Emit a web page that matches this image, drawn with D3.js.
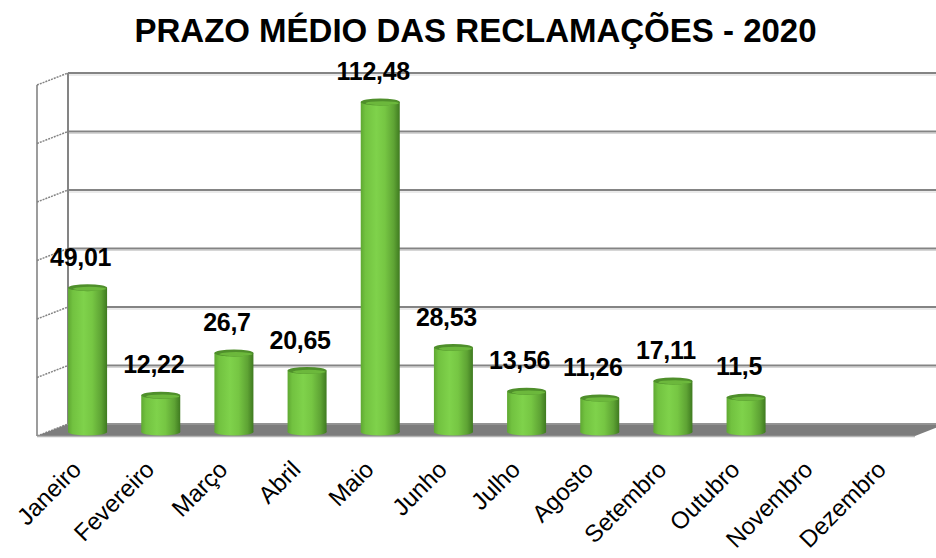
<!DOCTYPE html>
<html>
<head>
<meta charset="utf-8">
<script src="https://cdn.jsdelivr.net/npm/d3@7"></script>
<style>
  html, body { margin: 0; padding: 0; background: #ffffff; }
  svg { display: block; }
</style>
</head>
<body>
<div id="chart"></div>
<script>
// ---- data ----
const categories = ["Janeiro", "Fevereiro", "Março", "Abril", "Maio", "Junho",
                    "Julho", "Agosto", "Setembro", "Outubro", "Novembro", "Dezembro"];
const values = [49.01, 12.22, 26.7, 20.65, 112.48, 28.53, 13.56, 11.26, 17.11, 11.5, null, null];
const yTicks = [0, 20, 40, 60, 80, 100, 120];
const title = "PRAZO MÉDIO DAS RECLAMAÇÕES - 2020";

// ---- layout ----
const W = 936, H = 558;
const wallL = 68, wallR = 946;
const depthDx = -31, depthDy = 12;      // back wall -> front edge
const barDx = -17, barDy = 7;           // back wall -> bar plane

const svg = d3.select("#chart").append("svg")
  .attr("width", W).attr("height", H)
  .style("font-family", "'Liberation Sans', Arial, sans-serif");

const y = d3.scaleLinear().domain([0, 120]).range([424, 73]);
const x = d3.scaleBand().domain(categories).range([wallL, wallR]).padding(0);

const defs = svg.append("defs");
const grad = defs.append("linearGradient").attr("id", "cyl")
  .attr("x1", "0%").attr("x2", "100%").attr("y1", "0%").attr("y2", "0%");
[["0%", "#5fa832"], ["12%", "#72c240"], ["40%", "#7fd24b"], ["62%", "#76c643"],
 ["85%", "#5ea334"], ["100%", "#3f7a20"]].forEach(([o, c]) =>
  grad.append("stop").attr("offset", o).attr("stop-color", c));

const gridColor = "#848484";

// back wall gridlines
svg.append("g").selectAll("line").data(yTicks).join("line")
  .attr("x1", wallL).attr("x2", wallR)
  .attr("y1", d => y(d)).attr("y2", d => y(d))
  .attr("stroke", gridColor).attr("stroke-width", 2.2);
svg.append("g").selectAll("line").data(yTicks.slice(1)).join("line")
  .attr("x1", wallL).attr("x2", wallR)
  .attr("y1", d => y(d) + 2).attr("y2", d => y(d) + 2)
  .attr("stroke", "#d6d6d6").attr("stroke-width", 1);

// back wall left edge
svg.append("line")
  .attr("x1", wallL).attr("x2", wallL)
  .attr("y1", y(120)).attr("y2", y(0))
  .attr("stroke", gridColor).attr("stroke-width", 2);

// side wall: front edge + diagonal ticks
svg.append("line")
  .attr("x1", wallL + depthDx).attr("x2", wallL + depthDx)
  .attr("y1", y(120) + depthDy).attr("y2", y(0) + depthDy)
  .attr("stroke", gridColor).attr("stroke-width", 1.6);
svg.append("g").selectAll("line").data(yTicks).join("line")
  .attr("x1", wallL + depthDx).attr("x2", wallL)
  .attr("y1", d => y(d) + depthDy).attr("y2", d => y(d))
  .attr("stroke", gridColor).attr("stroke-width", 1.5)
  .attr("stroke-dasharray", "2,1");

// floor
const y0 = y(0);
svg.append("polygon")
  .attr("points", [[wallL, y0], [wallR, y0], [wallR + depthDx, y0 + depthDy], [wallL + depthDx, y0 + depthDy]]
    .map(p => p.join(",")).join(" "))
  .attr("fill", "#7d7d7d");
svg.append("line")
  .attr("x1", wallL).attr("x2", wallR).attr("y1", y0).attr("y2", y0)
  .attr("stroke", "#9a9a9a").attr("stroke-width", 1.5);
svg.append("line")
  .attr("x1", wallL + depthDx).attr("x2", wallR + depthDx)
  .attr("y1", y0 + depthDy + 0.5).attr("y2", y0 + depthDy + 0.5)
  .attr("stroke", "#b5b5b5").attr("stroke-width", 1.5);

// bars (cylinders)
const barW = 39, ry = 3.5;
const data = categories.map((c, i) => ({ c, v: values[i] })).filter(d => d.v != null);
const cx = d => x(d.c) + x.bandwidth() / 2 + barDx;
const bars = svg.append("g").selectAll("g").data(data).join("g");
bars.append("ellipse")
  .attr("cx", cx).attr("cy", y(0) + barDy + 1)
  .attr("rx", barW / 2).attr("ry", ry)
  .attr("fill", "url(#cyl)");
bars.append("rect")
  .attr("x", d => cx(d) - barW / 2).attr("width", barW)
  .attr("y", d => y(d.v) + barDy).attr("height", d => y(0) - y(d.v) + 1)
  .attr("fill", "url(#cyl)");
bars.append("ellipse")
  .attr("cx", cx).attr("cy", d => y(d.v) + barDy)
  .attr("rx", barW / 2).attr("ry", ry)
  .attr("fill", "#4f8f2b");
bars.append("ellipse")
  .attr("cx", d => cx(d) + 2).attr("cy", d => y(d.v) + barDy + 1.2)
  .attr("rx", barW / 2 - 3).attr("ry", ry - 1.5)
  .attr("fill", "#6cb83c");

// value labels
svg.append("g").selectAll("text").data(data).join("text")
  .attr("x", d => cx(d) - 7)
  .attr("y", d => y(d.v) - 15)
  .attr("text-anchor", "middle")
  .attr("font-weight", "bold")
  .attr("font-size", 25)
  .attr("letter-spacing", -0.3)
  .attr("fill", "#000")
  .text(d => String(d.v).replace(".", ","));

// category labels (rotated)
svg.append("g").selectAll("text").data(categories).join("text")
  .attr("transform", c => `translate(${x(c) + x.bandwidth() / 2 + barDx - 5},${y(0) + 47}) rotate(-45)`)
  .attr("text-anchor", "end")
  .attr("font-size", 24)
  .attr("fill", "#000")
  .text(c => c);

// title
svg.append("text")
  .attr("x", 475.5).attr("y", 42)
  .attr("text-anchor", "middle")
  .attr("font-weight", "bold")
  .attr("font-size", 33)
  .attr("fill", "#000")
  .text(title);
</script>
</body>
</html>
